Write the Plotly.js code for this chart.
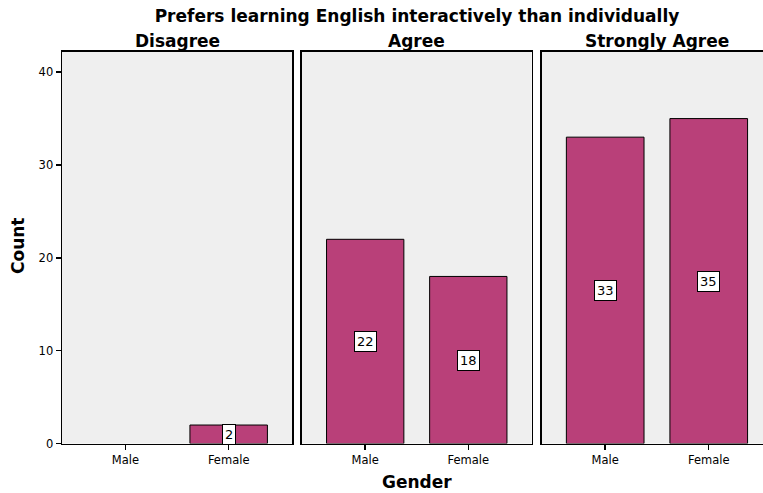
<!DOCTYPE html>
<html>
<head>
<meta charset="utf-8">
<script src="https://cdn.plot.ly/plotly-3.0.1.min.js"></script>
<style>html,body{margin:0;padding:0;background:#fff}#chart{width:763px;height:493px}</style>
</head>
<body>
<div id="chart"></div>
<script>
const genders = ['Male', 'Female'];
const panels = ['Disagree', 'Agree', 'Strongly Agree'];
const disagreeCounts = [0, 2];
const agreeCounts = [22, 18];
const stronglyAgreeCounts = [33, 35];
const yTicks = [0, 10, 20, 30, 40];

const seriesList = [disagreeCounts, agreeCounts, stronglyAgreeCounts];
const barColor = '#b94079';
const font = 'DejaVu Sans, Verdana, sans-serif';

const xDomains = [[0.0813, 0.3827], [0.3958, 0.6966], [0.71, 1.0]];
const xRanges = [[-0.613, 1.613], [-0.613, 1.613], [-0.613, 1.524]];
const panelTitleX = [177, 417, 657];
const yDomain = [0.1002, 0.8951];
const yRange = [0, 42.2];

const traces = [];
const annotations = [];
const layout = {
  width: 763, height: 493,
  margin: {l: 0, r: 0, t: 0, b: 0},
  paper_bgcolor: '#ffffff',
  plot_bgcolor: '#efefef',
  showlegend: false,
  font: {family: font, color: '#000'},
  title: {text: '<b>Prefers learning English interactively than individually</b>',
          x: 417 / 763, xanchor: 'center', y: 1 - 16 / 493, yanchor: 'middle',
          font: {family: font, size: 17, color: '#000'}}
};

seriesList.forEach((vals, i) => {
  const xa = i === 0 ? 'x' : 'x' + (i + 1);
  const ya = i === 0 ? 'y' : 'y' + (i + 1);
  traces.push({
    type: 'bar', x: genders, y: vals, xaxis: xa, yaxis: ya,
    width: 0.75,
    marker: {color: barColor, line: {color: '#000', width: vals.map(v => v > 0 ? 1 : 0)}},
    hoverinfo: 'x+y'
  });
  const xk = i === 0 ? 'xaxis' : 'xaxis' + (i + 1);
  const yk = i === 0 ? 'yaxis' : 'yaxis' + (i + 1);
  layout[xk] = {
    domain: xDomains[i], range: xRanges[i], anchor: ya,
    type: 'category', categoryarray: genders,
    showline: true, mirror: true, linecolor: '#000', linewidth: 1.5,
    ticks: 'outside', ticklen: 5, tickcolor: '#000', tickwidth: 1.5,
    tickfont: {family: font, size: 11.5, color: '#000'},
    showgrid: false, zeroline: false, fixedrange: true
  };
  layout[yk] = {
    domain: yDomain, range: yRange, anchor: xa,
    showline: true, mirror: true, linecolor: '#000', linewidth: 1.5,
    showgrid: false, zeroline: false, fixedrange: true,
    tickvals: yTicks,
    ticks: i === 0 ? 'outside' : '', ticklen: 5, tickcolor: '#000', tickwidth: 1.5,
    showticklabels: i === 0,
    tickfont: {family: font, size: 11.5, color: '#000'}
  };
  // panel title
  annotations.push({
    text: '<b>' + panels[i] + '</b>', xref: 'paper', yref: 'paper',
    x: panelTitleX[i] / 763, y: 1 - 41 / 493,
    xanchor: 'center', yanchor: 'middle', showarrow: false,
    font: {family: font, size: 17, color: '#000'}
  });
  // value labels
  vals.forEach((v, j) => {
    if (v > 0) {
      annotations.push({
        text: String(v), xref: xa, yref: ya, x: genders[j], y: v / 2,
        showarrow: false, bgcolor: '#ffffff', bordercolor: '#000', borderwidth: 1, borderpad: 2,
        font: {family: font, size: 13, color: '#000'}
      });
    }
  });
});

annotations.push({
  text: '<b>Gender</b>', xref: 'paper', yref: 'paper', x: 417 / 763, y: 1 - 482 / 493,
  xanchor: 'center', yanchor: 'middle', showarrow: false,
  font: {family: font, size: 17, color: '#000'}
});
annotations.push({
  text: '<b>Count</b>', xref: 'paper', yref: 'paper', x: 18 / 763, y: 1 - 246 / 493,
  xanchor: 'center', yanchor: 'middle', showarrow: false, textangle: -90,
  font: {family: font, size: 17, color: '#000'}
});
layout.annotations = annotations;

Plotly.newPlot('chart', traces, layout, {displayModeBar: false, staticPlot: true});
</script>
</body>
</html>
